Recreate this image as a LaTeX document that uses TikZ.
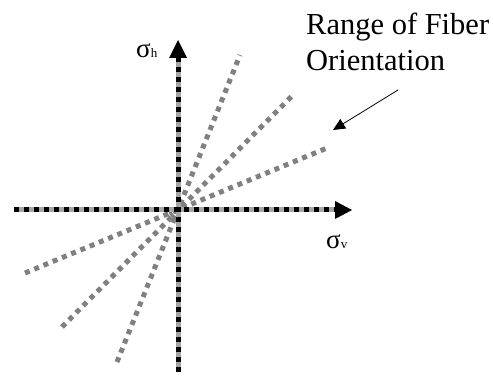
\documentclass[tikz,border=0pt]{standalone}
\usepackage{fontspec}
\setmainfont{Liberation Serif}
\usetikzlibrary{arrows.meta}
\tikzset{
  axisbase/.style={line width=5pt, draw=gray!70},
  axisdash/.style={line width=5pt, draw=black, dash pattern=on 5pt off 5pt},
  fiber/.style={line width=5pt, draw=gray, dash pattern=on 5pt off 5pt},
  lbl/.style={inner sep=0pt, font=\fontsize{27}{28}\selectfont},
  big/.style={inner sep=0pt, anchor=base west, font=\fontsize{30.5}{37}\selectfont}
}
\newcommand{\subsml}[1]{{\fontsize{13}{14}\selectfont #1}}
\begin{document}
\begin{tikzpicture}[x=1pt,y=-1pt]
\useasboundingbox (0,0) rectangle (493,377);
\coordinate (O) at (178,210);
\coordinate (L) at (14,210);
\coordinate (R) at (352,210);
\coordinate (T) at (178,40);
\coordinate (B) at (178,372);
% fibers
\coordinate (f1a) at (240,55);  \coordinate (f1b) at (117,362);
\coordinate (f2a) at (293,95);  \coordinate (f2b) at (62,327);
\coordinate (f3a) at (327,148); \coordinate (f3b) at (25,273);
\draw[fiber] (f1b) -- (f1a);
\draw[fiber] (f2b) -- (f2a);
\draw[fiber] (f3b) -- (f3a);
\draw[line width=3pt, gray] ([shift={(8,0)}]O) arc[start angle=0,end angle=-90,radius=8];
\draw[line width=3pt, gray] ([shift={(-8,0)}]O) arc[start angle=180,end angle=90,radius=8];
% axes
\coordinate (Rb) at (336,210);
\coordinate (Tb) at (178,57);
\draw[axisbase] (L) -- (Rb);
\draw[axisdash] (L) -- (Rb);
\draw[axisbase] (B) -- (Tb);
\draw[axisdash] (B) -- (Tb);
\fill[black] (R) -- (335,201) -- (335,219) -- cycle;
\fill[black] (T) -- (169,58) -- (187,58) -- cycle;
% labels
\node[lbl, anchor=base west] (sh) at (136,58) {σ\subsml{h}};
\node[lbl, anchor=base west] (sv) at (326,248) {σ\subsml{v}};
\node[big] (rng1) at (306,35) {Range of Fiber};
\node[big] (rng2) at (306,71) {Orientation};
\coordinate (as) at (398,90);
\coordinate (ae) at (333,130);
\draw[line width=0.8pt, -{Triangle[length=12pt,width=11pt]}] (as) -- (ae);
\end{tikzpicture}
\end{document}
